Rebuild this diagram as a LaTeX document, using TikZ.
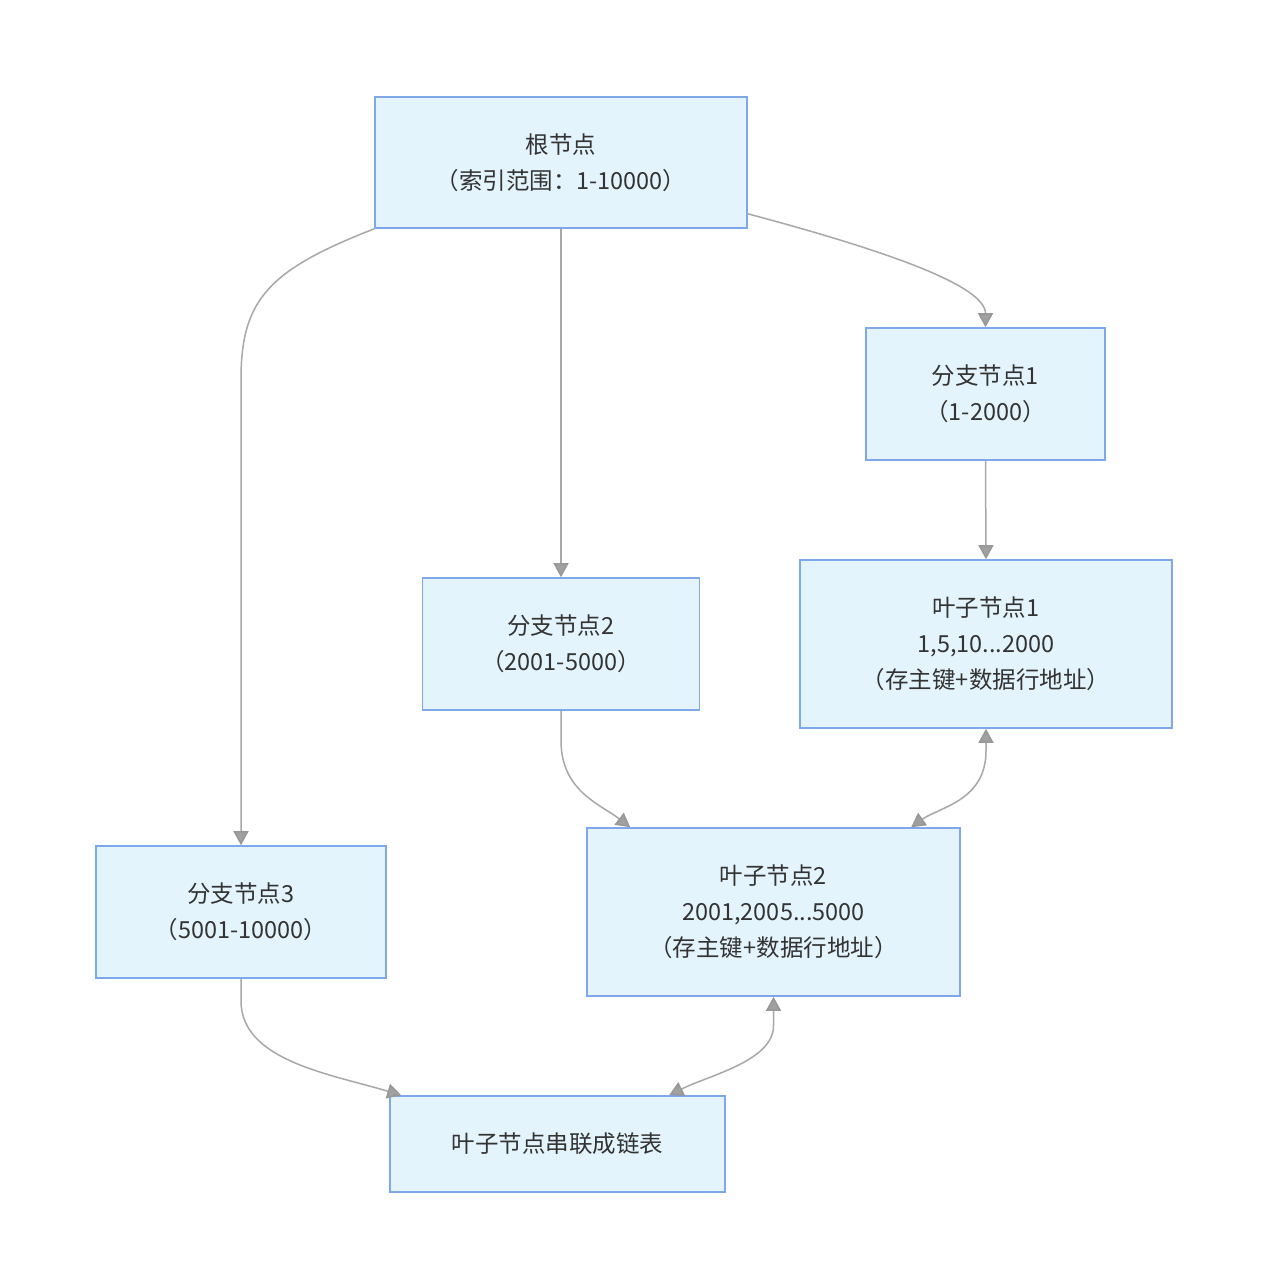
\documentclass[tikz,border=0pt]{standalone}
\usepackage{fontspec}
\setmainfont{Noto Sans CJK SC}
\usetikzlibrary{arrows.meta,calc}
\definecolor{boxfill}{HTML}{E4F4FD}
\definecolor{boxdraw}{HTML}{7FA8EA}
\definecolor{edgec}{HTML}{A8A8A8}
\definecolor{txt}{HTML}{333333}
\tikzset{
  box/.style={draw=boxdraw, fill=boxfill, line width=1.6pt, text=txt, align=center,
    font=\fontsize{23.5}{36}\selectfont, inner sep=0pt},
  edge/.style={draw=edgec, line width=1.5pt},
  tip/.style={-{Triangle[width=15pt,length=14pt,fill=edgec!95!black,color=edgec!90!black]}},
  btip/.style={{Triangle[width=15pt,length=14pt,fill=edgec!95!black,color=edgec!90!black]}-{Triangle[width=15pt,length=14pt,fill=edgec!95!black,color=edgec!90!black]}}
}
\begin{document}
\begin{tikzpicture}[x=1pt,y=-1pt]
\useasboundingbox (0,0) rectangle (1268,1288);
\fill[white] (0,0) rectangle (1268,1288);
\node[box, minimum width=372pt, minimum height=131pt] (root) at (561,162.5) {根节点\\（索引范围：1-10000）};
\node[box, minimum width=239pt, minimum height=132pt] (b1) at (985.5,394) {分支节点1\\（1-2000）};
\node[box, minimum width=372pt, minimum height=168pt] (l1) at (986,644) {叶子节点1\\1,5,10...2000\\（存主键+数据行地址）};
\node[box, minimum width=277pt, minimum height=132pt] (b2) at (561,644) {分支节点2\\（2001-5000）};
\node[box, minimum width=373pt, minimum height=168pt] (l2) at (773.5,912) {叶子节点2\\2001,2005...5000\\（存主键+数据行地址）};
\node[box, minimum width=290pt, minimum height=132pt] (b3) at (241,912) {分支节点3\\（5001-10000）};
\node[box, minimum width=335pt, minimum height=96pt] (chain) at (557.5,1144) {叶子节点串联成链表};

\draw[edge,tip] (root.south west) .. controls +(-105,41) and +(0,-80) .. ($(b3.north)+(0,-466)$) -- (b3.north);
\draw[edge,tip] (root.south) -- (b2.north);
\draw[edge,tip] ($(root.south east)+(0,-15)$) .. controls +(150,40) and +(0,-40) .. (b1.north);
\draw[edge,tip] (b1.south) -- (l1.north);
\draw[edge,tip] (b2.south) -- +(0,30) .. controls +(0,50) and +(-30,-23) .. ($(l2.north west)+(44,0)$);
\draw[edge,btip] ($(l2.north west)+(325,0)$) .. controls +(28,-20) and +(0,50) .. ($(l1.south)+(0,22)$) -- (l1.south);
\draw[edge,tip] (b3.south) -- +(0,22) .. controls +(0,60) and +(-70,-21) .. ($(chain.north west)+(12,0)$);
\draw[edge,btip] ($(chain.north west)+(280,0)$) .. controls +(40,-20) and +(0,35) .. ($(l2.south)+(0,29)$) -- (l2.south);
\end{tikzpicture}
\end{document}
